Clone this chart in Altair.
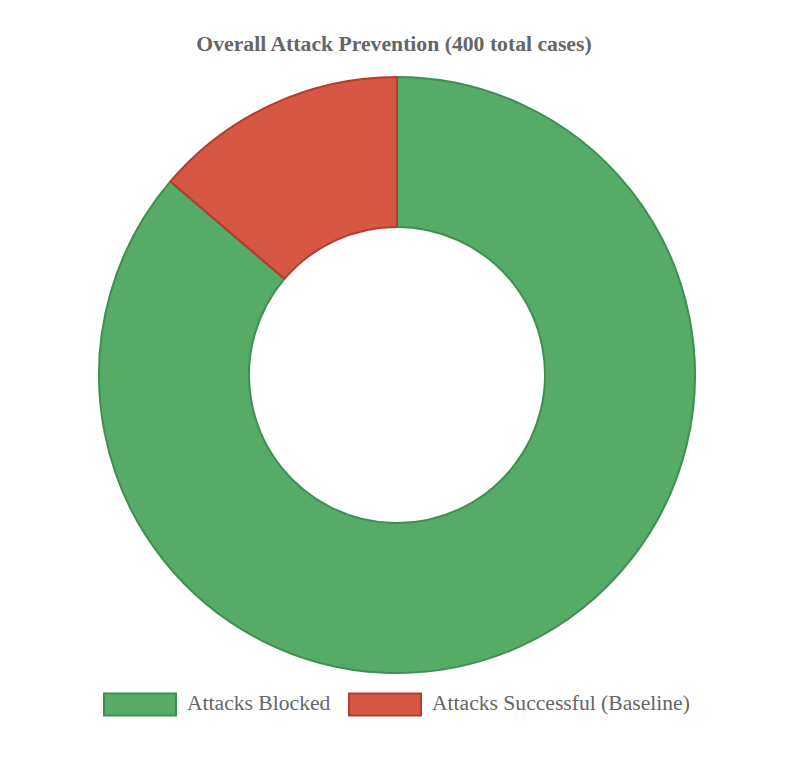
import altair as alt
import pandas as pd

categories = ["Attacks Blocked", "Attacks Successful (Baseline)"]
counts = [345, 55]
fill_colors = ["#56ab67", "#d75745"]
stroke_colors = ["#3f8f52", "#b33c30"]
order_idx = [0, 1]

df = pd.DataFrame({"category": categories, "count": counts, "idx": order_idx})

legend_cfg = dict(
    orient="none",
    legendX=95,
    legendY=599,
    direction="horizontal",
    title=None,
    symbolType="M-1,-0.3056H1V0.3056H-1Z",
    symbolSize=5184,
    symbolStrokeWidth=2,
    symbolOpacity=1,
    labelFont="Liberation Serif",
    labelFontSize=21.6,
    labelColor="#666666",
    labelOffset=10,
    columnPadding=14,
    labelLimit=400,
)

chart = (
    alt.Chart(df)
    .mark_arc(outerRadius=298, innerRadius=148, strokeWidth=2, opacity=1)
    .encode(
        theta=alt.Theta("count:Q", stack=True),
        order=alt.Order("idx:Q"),
        color=alt.Color(
            "category:N",
            scale=alt.Scale(domain=categories, range=fill_colors),
            legend=alt.Legend(**legend_cfg),
        ),
        stroke=alt.Stroke(
            "category:N",
            scale=alt.Scale(domain=categories, range=stroke_colors),
            legend=alt.Legend(**legend_cfg),
        ),
        x=alt.value(389),
        y=alt.value(307),
    )
    .properties(
        width=772,
        height=694,
        padding={"left": 0, "top": 60, "right": 0, "bottom": 0},
        autosize="none",
        title=alt.TitleParams(
            "Overall Attack Prevention (400 total cases)",
            font="Liberation Serif",
            fontSize=21.7,
            fontWeight="bold",
            color="#666666",
            anchor="middle",
            offset=12,
        ),
    )
    .configure_view(stroke=None)
)

chart.save("out.html", embed_options={"renderer": "svg", "actions": False})
